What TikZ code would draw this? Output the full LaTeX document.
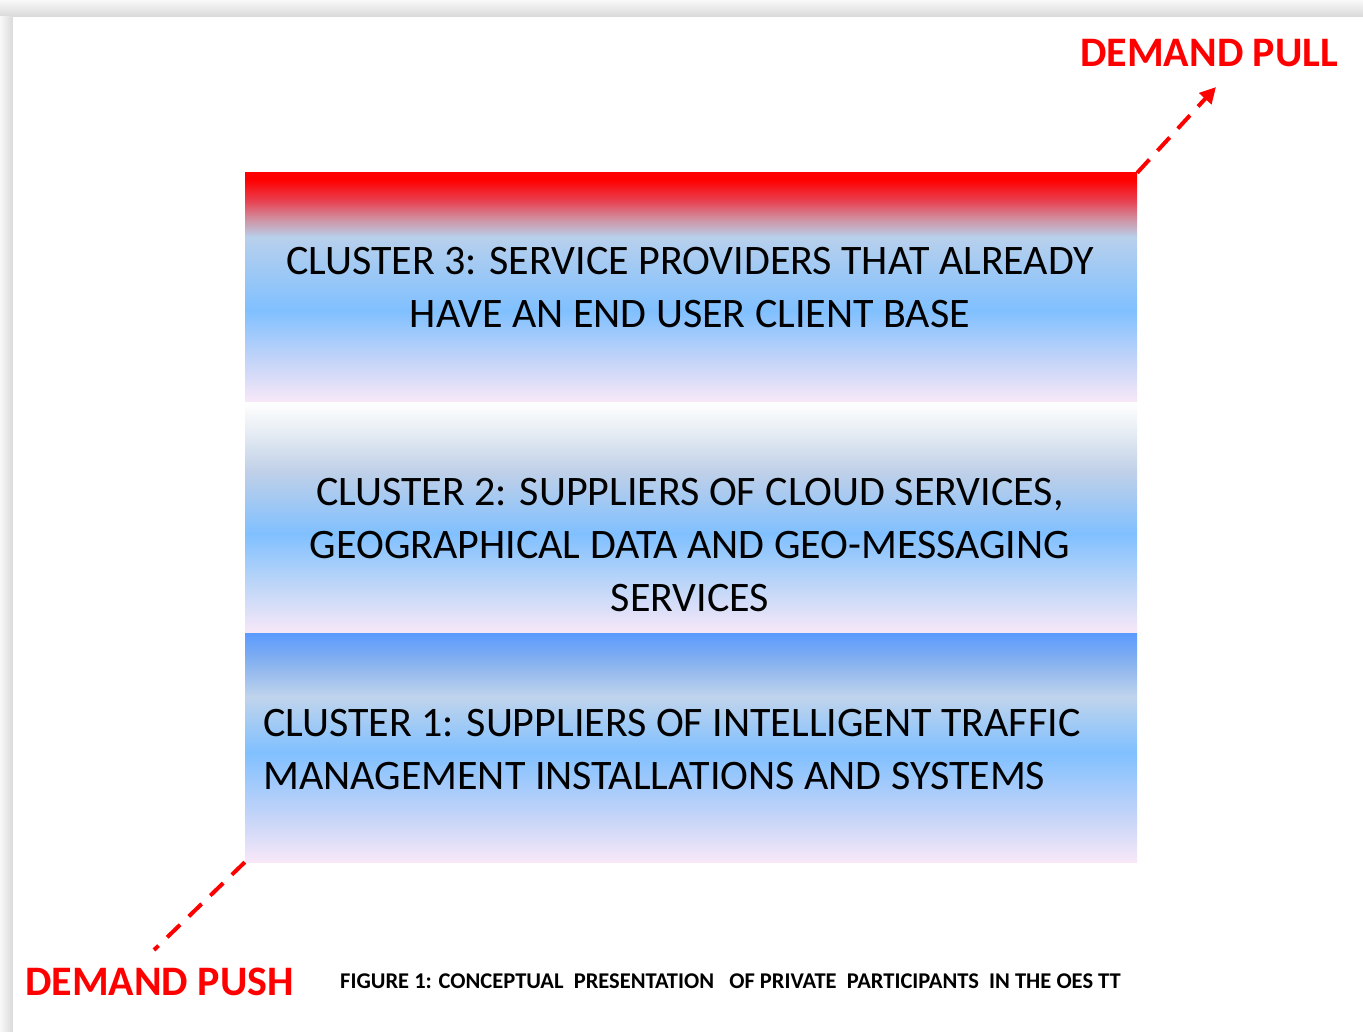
\documentclass[tikz,border=0pt]{standalone}
\usepackage{fontspec}
\setmainfont{Carlito}
\usetikzlibrary{arrows.meta}
\definecolor{pk}{HTML}{F8E8F8}
\definecolor{lbA}{HTML}{C4D4F8}
\definecolor{sky}{HTML}{80C0FF}
\definecolor{gbA}{HTML}{B8D0EC}
\definecolor{rpA}{HTML}{D090A0}
\definecolor{rrA}{HTML}{E84050}
\definecolor{wgA}{HTML}{E8EEF4}
\definecolor{gbB}{HTML}{C0D0E8}
\definecolor{lbB}{HTML}{B8D4F8}
\definecolor{blA}{HTML}{5B9BFF}
\definecolor{blB}{HTML}{80AEF0}
\definecolor{gbC}{HTML}{C0D4EC}
\definecolor{demandred}{HTML}{FF0000}
\pgfdeclareverticalshading{shadeThree}{100bp}{color(0bp)=(pk); color(25bp)=(pk); color(34bp)=(lbA); color(45bp)=(sky); color(61bp)=(gbA); color(65bp)=(rpA); color(69bp)=(rrA); color(73.5bp)=(demandred); color(75bp)=(demandred); color(100bp)=(demandred)}
\pgfdeclareverticalshading{shadeTwo}{100bp}{color(0bp)=(pk); color(25bp)=(pk); color(36.5bp)=(lbB); color(46.5bp)=(sky); color(60bp)=(gbB); color(69bp)=(wgA); color(75bp)=(white); color(100bp)=(white)}
\pgfdeclareverticalshading{shadeOne}{100bp}{color(0bp)=(pk); color(25bp)=(pk); color(35bp)=(lbA); color(49bp)=(sky); color(61bp)=(gbC); color(69.5bp)=(blB); color(75bp)=(blA); color(100bp)=(blA)}
\tikzset{
  clusterbox/.style={draw=none, inner sep=0pt, minimum width=892pt},
  clustertext/.style={inner sep=0pt, text=black, font=\fontsize{42}{53}\selectfont},
  demandlabel/.style={inner sep=0pt, text=demandred, font=\fontsize{42}{50}\selectfont\bfseries},
  demandline/.style={draw=demandred, line width=4pt, dash pattern=on 18pt off 12pt},
  captiontext/.style={inner sep=0pt, text=black, font=\fontsize{22.5}{26}\selectfont\bfseries}
}
\begin{document}
\begin{tikzpicture}[x=1pt,y=-1pt]
\useasboundingbox (0,0) rectangle (1363,1032);
% page with shadow
\fill[white] (0,0) rectangle (1363,1032);
\shade[top color=gray!5, bottom color=gray!30] (0,0) rectangle (1363,17);
\shade[left color=gray!5, right color=gray!30] (0,17) rectangle (13,1032);
\fill[white] (13,17) rectangle (1363,1032);
% boxes
\node[clusterbox, shading=shadeThree, minimum height=229pt] (c3) at (691,287.5) {};
\node[clusterbox, shading=shadeTwo, minimum height=231pt] (c2) at (691,517.5) {};
\node[clusterbox, shading=shadeOne, minimum height=229pt] (c1) at (691,747.5) {};
% texts (anchor base = baseline of the last line)
\node[clustertext, align=center, anchor=base] (t3) at (690,328) {CLUSTER 3: SERVICE PROVIDERS THAT ALREADY\\HAVE AN END USER CLIENT BASE};
\node[clustertext, align=center, anchor=base] (t2) at (690,611) {CLUSTER 2: SUPPLIERS OF CLOUD SERVICES,\\GEOGRAPHICAL DATA AND GEO-MESSAGING\\SERVICES};
\node[clustertext, align=left, anchor=base west] (t1) at (263,789) {CLUSTER 1: SUPPLIERS OF INTELLIGENT TRAFFIC\\MANAGEMENT INSTALLATIONS AND SYSTEMS};
% demand labels
\node[demandlabel, anchor=base west] (pull) at (1080,67) {DEMAND PULL};
\node[demandlabel, anchor=base west] (push) at (25,995) {DEMAND PUSH};
\coordinate (pulltip) at (1216,87);
\coordinate (pushend) at (154,950);
\draw[demandline, -{Triangle[length=16pt,width=16pt]}] (c3.north east) -- (pulltip);
\draw[demandline] (c1.south west) -- (pushend);
% caption
\node[captiontext, anchor=base west] (cap) at (340,988) {FIGURE 1: CONCEPTUAL\ \ PRESENTATION\ \ \ OF PRIVATE\ \ PARTICIPANTS\ \ IN THE OES TT};
\end{tikzpicture}
\end{document}
